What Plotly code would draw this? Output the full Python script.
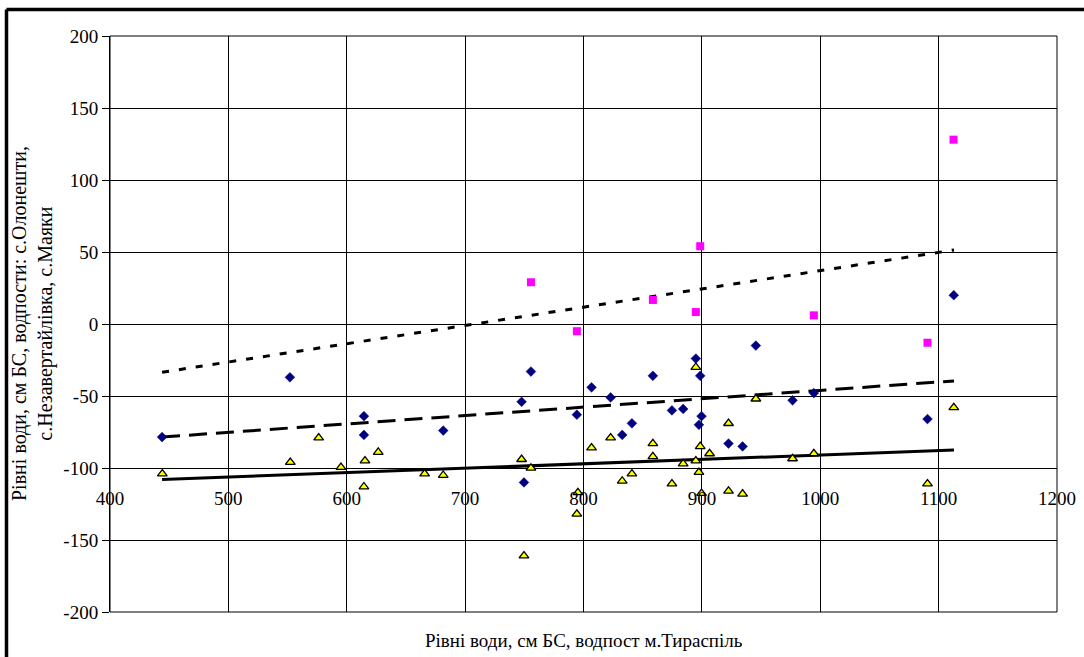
import plotly.graph_objects as go

# Blue diamonds (с.Незавертайлівка)
blue_x = [444, 552, 614.5, 614.5, 681.5, 747.7, 794.4, 749.7, 755.6, 806.8, 822.9, 832.7,
          840.9, 858.6, 874.7, 884.2, 894.9, 898.6, 899.7, 897.5, 922.5, 934.4, 945.6,
          976.6, 994.6, 1090.6, 1112.8]
blue_y = [-78.5, -37, -64, -77, -74, -54, -63, -110, -33, -44, -51, -77,
          -69, -36, -60, -59, -24, -36, -64, -70, -83, -85, -15,
          -53, -48, -66, 20]

# Magenta squares (с.Олонешти)
pink_x = [755.6, 794.4, 858.6, 894.9, 898.6, 994.6, 1090.6, 1112.6]
pink_y = [29, -5, 16.7, 8.3, 54, 6, -13, 128]

# Yellow triangles (с.Маяки)
yel_x = [444.2, 552.3, 576.3, 595.1, 615.4, 614.5, 626.6, 665.8, 681.5, 747.7, 755.6,
         749.7, 795.3, 794.4, 806.8, 822.9, 832.7, 840.9, 858.6, 858.6, 874.7, 884.2,
         894.9, 894.9, 897.5, 898.6, 899.7, 906.5, 922.5, 922.5, 934.4, 945.6, 976.6,
         994.6, 1090.6, 1112.8]
yel_y = [-104, -96, -79, -99.5, -95, -113, -89, -104, -105, -94, -100,
         -161, -117, -132, -86, -79, -109, -104, -83, -92, -111, -97,
         -30, -95, -103, -85, -117.6, -90, -69, -116, -118, -52, -93.5,
         -90, -111, -58]

# Linear trend lines (endpoints)
trend_x = [444, 1113]
trend_pink_y = [-33.5, 51.4]
trend_blue_y = [-78.5, -39.5]
trend_yel_y = [-108, -87.5]

x_ticks = [400, 500, 600, 700, 800, 900, 1000, 1100, 1200]
y_ticks = [-200, -150, -100, -50, 0, 50, 100, 150, 200]

FONT = "Liberation Serif, Times New Roman, serif"

fig = go.Figure()
fig.add_trace(go.Scatter(x=trend_x, y=trend_pink_y, mode="lines",
                         line=dict(color="black", width=3, dash="7px,10px"),
                         showlegend=False, hoverinfo="skip"))
fig.add_trace(go.Scatter(x=trend_x, y=trend_blue_y, mode="lines",
                         line=dict(color="black", width=3, dash="18px,9px"),
                         showlegend=False, hoverinfo="skip"))
fig.add_trace(go.Scatter(x=trend_x, y=trend_yel_y, mode="lines",
                         line=dict(color="black", width=3),
                         showlegend=False, hoverinfo="skip"))
fig.add_trace(go.Scatter(x=blue_x, y=blue_y, mode="markers",
                         marker=dict(symbol="diamond", size=7.5, color="#000080",
                                     line=dict(width=0.5, color="#000080")),
                         showlegend=False))
fig.add_trace(go.Scatter(x=pink_x, y=pink_y, mode="markers",
                         marker=dict(symbol="square", size=8, color="#FF00FF",
                                     line=dict(width=0)),
                         showlegend=False))
fig.add_trace(go.Scatter(x=yel_x, y=yel_y, mode="markers",
                         marker=dict(symbol="triangle-up", size=8.5, color="#FFFF00",
                                     line=dict(width=1.3, color="black")),
                         showlegend=False))

L, R, T, B = 110, 27, 36, 45
W, H = 1084, 657
pw, ph = W - L - R, H - T - B

def px2paper_x(px):
    return (px - L) / pw

def px2paper_y(py):
    return (H - B - py) / ph

fig.update_layout(
    width=W, height=H,
    margin=dict(l=L, r=R, t=T, b=B, autoexpand=False),
    paper_bgcolor="white", plot_bgcolor="white",
    font=dict(family=FONT, color="black"),
    xaxis=dict(range=[400, 1200], tickvals=x_ticks, ticktext=[str(v) for v in x_ticks],
               showgrid=True, gridcolor="black", gridwidth=1,
               showline=False, zeroline=False, ticks="",
               anchor="free", position=0.220,
               tickfont=dict(family=FONT, size=19, color="black")),
    yaxis=dict(range=[-200, 200], tickvals=y_ticks, ticktext=[str(v) for v in y_ticks],
               showgrid=True, gridcolor="black", gridwidth=1,
               showline=True, linecolor="black", linewidth=1,
               zeroline=False, ticks="outside", ticklen=7, tickcolor="black",
               tickfont=dict(family=FONT, size=19, color="black")),
    shapes=[
        dict(type="rect", xref="paper", yref="paper", x0=0, x1=1, y0=0, y1=1,
             line=dict(color="black", width=1), layer="above"),
        dict(type="line", xref="paper", yref="paper",
             x0=px2paper_x(6.5), x1=px2paper_x(1100), y0=px2paper_y(9.5), y1=px2paper_y(9.5),
             line=dict(color="black", width=3.5)),
        dict(type="line", xref="paper", yref="paper",
             x0=px2paper_x(6.5), x1=px2paper_x(6.5), y0=px2paper_y(9.5), y1=px2paper_y(700),
             line=dict(color="black", width=3.5)),
    ],
    annotations=[
        dict(text="Рівні води, см БС, водпост м.Тираспіль", xref="paper", yref="paper",
             x=0.5, y=px2paper_y(640), xanchor="center", yanchor="middle",
             showarrow=False, font=dict(family=FONT, size=19, color="black")),
        dict(text="Рівні води, см БС, водпости: с.Олонешти,<br>с.Незавертайлівка, с.Маяки",
             xref="paper", yref="paper", x=px2paper_x(32), y=px2paper_y(324),
             xanchor="center", yanchor="middle", textangle=-90,
             showarrow=False, font=dict(family=FONT, size=20, color="black")),
    ],
)

fig.write_html("out.html")
